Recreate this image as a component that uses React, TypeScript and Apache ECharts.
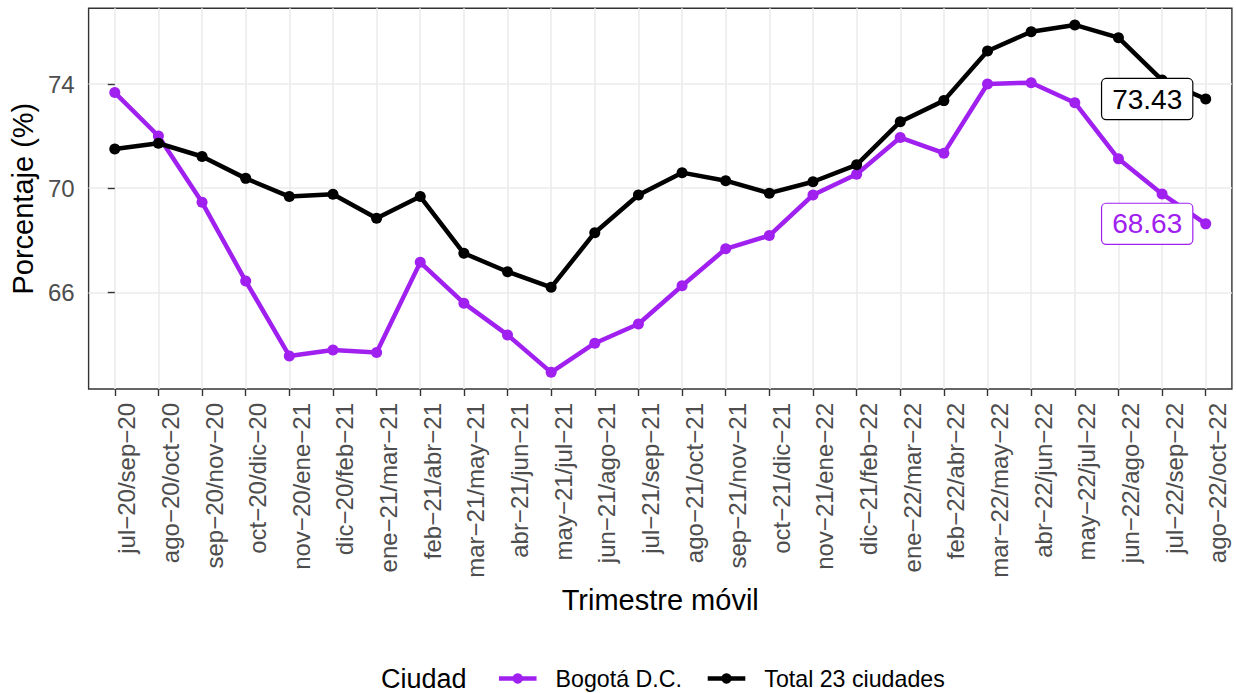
import React, { useEffect, useRef } from "react";
import * as echarts from "echarts";

const categories = [
  "jul−20/sep−20", "ago−20/oct−20", "sep−20/nov−20", "oct−20/dic−20", "nov−20/ene−21",
  "dic−20/feb−21", "ene−21/mar−21", "feb−21/abr−21", "mar−21/may−21", "abr−21/jun−21",
  "may−21/jul−21", "jun−21/ago−21", "jul−21/sep−21", "ago−21/oct−21", "sep−21/nov−21",
  "oct−21/dic−21", "nov−21/ene−22", "dic−21/feb−22", "ene−22/mar−22", "feb−22/abr−22",
  "mar−22/may−22", "abr−22/jun−22", "may−22/jul−22", "jun−22/ago−22", "jul−22/sep−22",
  "ago−22/oct−22",
];

const bogota = [
  73.68, 72.01, 69.46, 66.43, 63.55, 63.78, 63.68, 67.15, 65.58, 64.36,
  62.92, 64.04, 64.78, 66.25, 67.67, 68.18, 69.74, 70.54, 71.95, 71.35,
  74.01, 74.06, 73.29, 71.13, 69.78, 68.63,
];

const total = [
  71.51, 71.73, 71.22, 70.38, 69.68, 69.77, 68.85, 69.68, 67.5, 66.79,
  66.19, 68.29, 69.74, 70.6, 70.29, 69.81, 70.25, 70.9, 72.56, 73.37,
  75.28, 76.02, 76.28, 75.79, 74.16, 73.43,
];

const yTickLabels = [66, 70, 74];
const seriesNames = ["Bogotá D.C.", "Total 23 ciudades"];
const seriesColors = ["#A020F0", "#000000"];
const legendTitle = "Ciudad";
const xTitle = "Trimestre móvil";
const yTitle = "Porcentaje (%)";

const FONT = "'Liberation Sans', Arial, Helvetica, sans-serif";

export default function App() {
  const ref = useRef<HTMLDivElement>(null);

  useEffect(() => {
    if (!ref.current) return;
    const chart = echarts.init(ref.current, undefined, { renderer: "svg" });
    const idx = categories.map((_, i) => i);

    const makeSeries = (name: string, values: number[], color: string) => {
      const last = values.length - 1;
      return {
        name,
        type: "line",
        data: values.map((v, i) =>
          i === last
            ? {
                value: [i, v],
                label: {
                  show: true,
                  position: "left",
                  distance: 8,
                  formatter: (p: any) => p.value[1].toFixed(2),
                  fontSize: 28,
                  fontFamily: FONT,
                  color,
                  backgroundColor: "#ffffff",
                  borderColor: color,
                  borderWidth: 1.2,
                  borderRadius: 4,
                  padding: [6, 10, 5, 10],
                  lineHeight: 29,
                },
              }
            : [i, v]
        ),
        symbol: "circle",
        symbolSize: 11,
        itemStyle: { color },
        lineStyle: { color, width: 4.5 },
        clip: false,
        z: 3,
      };
    };

    chart.setOption({
      animation: false,
      backgroundColor: "#ffffff",
      textStyle: { fontFamily: FONT },
      grid: {
        left: 87.8,
        right: 4.1,
        top: 8.3,
        bottom: 304,
        show: true,
        borderColor: "#333333",
        borderWidth: 1.4,
        backgroundColor: "#ffffff",
        containLabel: false,
      },
      xAxis: {
        type: "value",
        min: -0.6,
        max: categories.length - 1 + 0.6,
        minInterval: 1,
        maxInterval: 1,
        axisLine: { show: false },
        axisTick: {
          show: true,
          length: 7,
          customValues: idx,
          lineStyle: { color: "#333333", width: 1.4 },
        },
        axisLabel: {
          customValues: idx,
          rotate: 90,
          margin: 14,
          verticalAlign: "top",
          fontSize: 24,
          color: "#4D4D4D",
          fontFamily: FONT,
          formatter: (v: number) =>
            Number.isInteger(v) && v >= 0 && v < categories.length ? categories[v] : "",
        },
        splitLine: { show: true, lineStyle: { color: "#EBEBEB", width: 1.6 } },
        name: xTitle,
        nameLocation: "middle",
        nameGap: 192,
        nameTextStyle: { fontSize: 29, color: "#000000", fontFamily: FONT },
      },
      yAxis: {
        type: "value",
        min: 62.28,
        max: 76.92,
        minInterval: 2,
        maxInterval: 2,
        axisLine: { show: false },
        axisTick: {
          show: true,
          length: 7,
          customValues: yTickLabels,
          lineStyle: { color: "#333333", width: 1.4 },
        },
        axisLabel: {
          customValues: yTickLabels,
          margin: 14,
          fontSize: 24,
          color: "#4D4D4D",
          fontFamily: FONT,
          formatter: (v: number) => (yTickLabels.indexOf(v) >= 0 ? String(v) : ""),
        },
        splitLine: { show: true, lineStyle: { color: "#EBEBEB", width: 1.6 } },
        name: yTitle,
        nameLocation: "middle",
        nameGap: 50,
        nameTextStyle: { fontSize: 29, color: "#000000", fontFamily: FONT },
      },
      legend: {
        data: seriesNames,
        left: 491.7,
        top: 662,
        itemWidth: 37.6,
        itemHeight: 13,
        itemGap: 23.6,
        lineStyle: { width: 4.5 },
        textStyle: {
          fontSize: 23.2,
          color: "#000000",
          fontFamily: FONT,
          padding: [0, 0, 0, 14],
        },
      },
      graphic: [
        {
          type: "text",
          left: 381,
          top: 665,
          style: {
            text: legendTitle,
            fontSize: 27,
            fontFamily: FONT,
            fill: "#000000",
          },
        },
      ],
      series: [
        makeSeries(seriesNames[0], bogota, seriesColors[0]),
        makeSeries(seriesNames[1], total, seriesColors[1]),
      ],
    });

    return () => chart.dispose();
  }, []);

  return (
    <div
      ref={ref}
      style={{ position: "fixed", left: 0, top: 0, width: 1236, height: 693 }}
    />
  );
}
